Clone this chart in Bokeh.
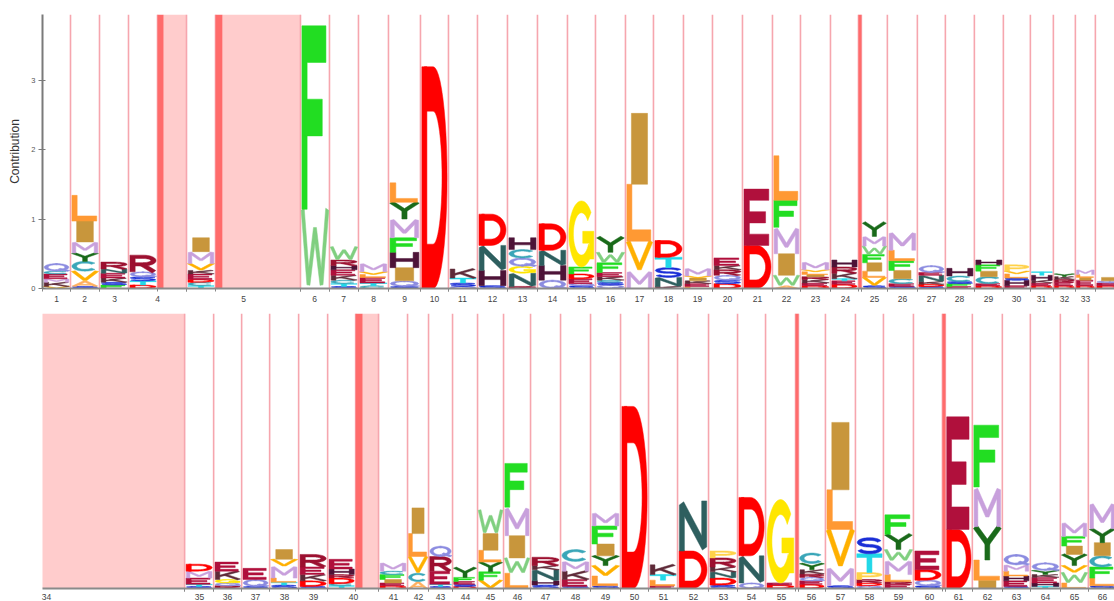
import numpy as np
from bokeh.plotting import figure
from bokeh.layouts import column
from bokeh.models import Range1d, FixedTicker, LinearAxis
from bokeh.embed import file_html
from bokeh.resources import INLINE

# ---------------- DATA ----------------
# residues per position, stacked bottom -> top, with their contributions
res_1_34 = ["VKMECQ", "SAVCYMIL", "FSKENR", "DTSQR", "TCDEKVMI", "WF", "STCKEHRW", "CTELVM",
            "SQIHFMYL", "D", "QSTK", "SHND", "RNGQCH", "QHND", "SQEDFG", "QSCKEFWY", "MVLI",
            "KNSTD", "LEKIVM", "DSQRKE", "DE", "AWIMFL", "DEKRILVM", "DETKRH", "SVLIFWMY",
            "SECIFLM", "SDKNEQ", "EFSCH", "DECIFH", "EHSLVP", "DEKHT", "DERKY", "DEILM", "DEQI"]
hts_1_34 = [[0.03, 0.06, 0.05, 0.07, 0.04, 0.11], [0.03, 0.08, 0.14, 0.14, 0.12, 0.16, 0.30, 0.37],
            [0.05, 0.04, 0.06, 0.07, 0.06, 0.10], [0.05, 0.06, 0.06, 0.07, 0.24],
            [0.04, 0.05, 0.04, 0.08, 0.05, 0.10, 0.17, 0.20], [1.14, 2.64],
            [0.03, 0.04, 0.05, 0.07, 0.08, 0.06, 0.08, 0.19], [0.04, 0.04, 0.08, 0.04, 0.04, 0.12],
            [0.03, 0.08, 0.19, 0.22, 0.21, 0.27, 0.24, 0.28], [3.19], [0.03, 0.05, 0.07, 0.13],
            [0.04, 0.22, 0.36, 0.45], [0.03, 0.19, 0.10, 0.12, 0.12, 0.17], [0.12, 0.21, 0.22, 0.38],
            [0.04, 0.03, 0.07, 0.07, 0.10, 0.95], [0.05, 0.04, 0.03, 0.05, 0.06, 0.14, 0.15, 0.22],
            [0.25, 0.43, 0.82, 1.02], [0.03, 0.13, 0.14, 0.15, 0.24], [0.03, 0.04, 0.04, 0.04, 0.03, 0.11],
            [0.07, 0.05, 0.07, 0.08, 0.06, 0.11], [0.62, 0.81], [0.04, 0.15, 0.31, 0.38, 0.39, 0.64],
            [0.04, 0.04, 0.05, 0.04, 0.03, 0.04, 0.03, 0.11], [0.06, 0.05, 0.03, 0.08, 0.09, 0.10],
            [0.04, 0.12, 0.09, 0.12, 0.12, 0.12, 0.14, 0.20], [0.03, 0.04, 0.07, 0.12, 0.14, 0.15, 0.26],
            [0.03, 0.03, 0.04, 0.09, 0.04, 0.10], [0.03, 0.04, 0.03, 0.08, 0.11],
            [0.04, 0.03, 0.10, 0.08, 0.09, 0.07], [0.04, 0.08, 0.03, 0.06, 0.04, 0.09],
            [0.04, 0.04, 0.04, 0.07, 0.05], [0.04, 0.05, 0.04, 0.04, 0.04], [0.04, 0.08, 0.04, 0.04, 0.07],
            [0.04, 0.04, 0.03, 0.05]]
res_35_66 = ["STEMD", "RQGKE", "SQE", "STLMVI", "SDKER", "TCDRHE", "DEIFCM", "ACVLI", "STERQ",
             "DSEFY", "VFYLIW", "LWIMF", "SHNKR", "SEKMC", "SLVYIFM", "D", "ELTK", "DN", "SDNKRP",
             "QND", "DEG", "DEQRKYC", "SMVLI", "QDRPTS", "ERLMWYF", "SQDE", "DE", "ILYMF",
             "SEHLMQ", "THEKYQ", "LWVYIFM", "SLFCIYM"]
hts_35_66 = [[0.03, 0.03, 0.09, 0.10, 0.10], [0.04, 0.04, 0.05, 0.12, 0.13], [0.03, 0.10, 0.16],
             [0.05, 0.04, 0.06, 0.17, 0.10, 0.14], [0.03, 0.08, 0.09, 0.11, 0.18],
             [0.04, 0.03, 0.08, 0.05, 0.08, 0.14], [0.04, 0.04, 0.05, 0.07, 0.05, 0.12],
             [0.10, 0.12, 0.24, 0.33, 0.37], [0.03, 0.03, 0.19, 0.21, 0.15], [0.03, 0.03, 0.04, 0.06, 0.14],
             [0.12, 0.12, 0.14, 0.17, 0.24, 0.34], [0.22, 0.22, 0.32, 0.41, 0.63],
             [0.05, 0.06, 0.16, 0.06, 0.12], [0.03, 0.10, 0.12, 0.14, 0.17],
             [0.04, 0.14, 0.15, 0.14, 0.17, 0.26, 0.19], [2.62], [0.04, 0.08, 0.08, 0.14], [0.54, 0.72],
             [0.05, 0.10, 0.09, 0.07, 0.13, 0.10], [0.08, 0.39, 0.84], [0.05, 0.03, 1.20],
             [0.06, 0.05, 0.05, 0.05, 0.06, 0.09, 0.15], [0.04, 0.26, 0.55, 0.57, 0.97],
             [0.04, 0.04, 0.05, 0.10, 0.27, 0.23], [0.06, 0.04, 0.10, 0.20, 0.16, 0.22, 0.28],
             [0.04, 0.08, 0.15, 0.27], [0.85, 1.62], [0.12, 0.29, 0.48, 0.57, 0.89],
             [0.03, 0.08, 0.07, 0.07, 0.09, 0.15], [0.03, 0.05, 0.08, 0.04, 0.06, 0.11],
             [0.08, 0.15, 0.10, 0.16, 0.12, 0.14, 0.20], [0.04, 0.11, 0.16, 0.16, 0.19, 0.20, 0.37]]
# insert states: probability (dark strip) and expected length (pale block), in column units
insert_prob = {4: 0.21, 5: 0.24, 24: 0.1, 40: 0.24, 55: 0.1, 60: 0.1}
insert_len = {4: 0.79, 5: 2.69, 34: 4.97, 40: 0.55}

# ---------------- LAYOUT / STYLE ----------------
COL = 29.0
PX_PER_UNIT = 69.5
match_w = [28, 29, 29, 29, 29, 29, 29, 30, 32, 28, 29, 30, 30, 30, 28, 30, 28, 30, 29, 30, 30, 28,
           30, 28, 26, 30, 28, 29, 29, 27, 23, 22, 20, 29,
           29, 28, 28, 29, 29, 28, 29, 21, 24, 25, 26, 27, 30, 30, 30, 28, 29, 31, 29, 28, 30, 27,
           30, 28, 30, 29, 27, 30, 28, 30, 28, 28]
COLORS = {'A': '#ffb060', 'C': '#3aa6b8', 'D': '#ff0000', 'E': '#b0103c', 'F': '#22dd22',
          'G': '#ffe600', 'H': '#4e1438', 'I': '#c8963c', 'K': '#5e2a38', 'L': '#ff9933',
          'M': '#c8a0dc', 'N': '#2e5f5f', 'P': '#ffd24a', 'Q': '#8c8ce0', 'R': '#9c1030',
          'S': '#1a2ed6', 'T': '#22d8e8', 'V': '#ffb000', 'W': '#80cf80', 'Y': '#1a6a1a'}
LINE_C = '#f6a6ae'
PINK = '#ffcccc'
RED = '#ff6b6b'


def arc(cx, cy, rx, ry, a0, a1):
    n = max(8, int(abs(a1 - a0) / 7))
    t = np.radians(np.linspace(a0, a1, n))
    return [(cx + rx * np.cos(a), cy + ry * np.sin(a)) for a in t]


def S(pts, t=0.2):
    return (pts, t)


P_BOWL = [(0.1, 0.0), (0.1, 0.9), (0.5, 0.9)] + arc(0.5, 0.675, 0.4, 0.225, 90, -90) + [(0.1, 0.45)]
GLYPHS = {
    'A': [S([(0.08, 0.02), (0.5, 0.94), (0.92, 0.02)], 0.16), S([(0.27, 0.3), (0.73, 0.3)], 0.14)],
    'C': [S(arc(0.5, 0.5, 0.41, 0.41, 40, 320), 0.18)],
    'D': [S([(0.1, 0), (0.1, 1)]), S([(0.1, 0.9), (0.45, 0.9)] + arc(0.45, 0.5, 0.45, 0.4, 90, -90) + [(0.1, 0.1)])],
    'E': [S([(0.92, 0.9), (0.1, 0.9), (0.1, 0.1), (0.92, 0.1)]), S([(0.1, 0.5), (0.8, 0.5)])],
    'F': [S([(0.92, 0.9), (0.1, 0.9), (0.1, 0.0)]), S([(0.1, 0.5), (0.78, 0.5)])],
    'G': [S(arc(0.5, 0.5, 0.41, 0.41, 40, 330), 0.18), S([(0.55, 0.45), (0.9, 0.45), (0.9, 0.12)], 0.18)],
    'H': [S([(0.1, 0), (0.1, 1)]), S([(0.9, 0), (0.9, 1)]), S([(0.1, 0.5), (0.9, 0.5)])],
    'I': [S([(0.5, 0), (0.5, 1)], 0.64)],
    'K': [S([(0.1, 0), (0.1, 1)], 0.18), S([(0.92, 1), (0.15, 0.38)], 0.16), S([(0.38, 0.58), (0.95, 0)], 0.16)],
    'L': [S([(0.1, 1), (0.1, 0.1), (0.95, 0.1)])],
    'M': [S([(0.08, 0), (0.08, 0.93), (0.5, 0.28), (0.92, 0.93), (0.92, 0)], 0.14)],
    'N': [S([(0.1, 0), (0.1, 0.92), (0.9, 0.08), (0.9, 1)], 0.18)],
    'P': [S(P_BOWL)],
    'Q': [S(arc(0.5, 0.5, 0.41, 0.41, 85, 275), 0.16), S(arc(0.5, 0.5, 0.41, 0.41, 265, 455), 0.16),
          S([(0.6, 0.3), (0.98, 0.02)], 0.16)],
    'R': [S(P_BOWL), S([(0.45, 0.45), (0.92, 0.0)])],
    'S': [S(arc(0.5, 0.71, 0.4, 0.21, 15, 270) + arc(0.5, 0.29, 0.4, 0.21, 90, -165), 0.17)],
    'T': [S([(0.0, 0.9), (1.0, 0.9)]), S([(0.5, 0.9), (0.5, 0.0)])],
    'V': [S([(0.05, 1), (0.5, 0.08), (0.95, 1)], 0.16)],
    'W': [S([(0.03, 1), (0.25, 0.06), (0.5, 0.75), (0.75, 0.06), (0.97, 1)], 0.12)],
    'Y': [S([(0.05, 1), (0.5, 0.5), (0.95, 1)], 0.17), S([(0.5, 0.55), (0.5, 0)], 0.18)],
}


def stroke_poly(pts, th):
    P = [np.array(pts[0], float)]
    for q in pts[1:]:
        q = np.array(q, float)
        if np.hypot(*(q - P[-1])) > 1e-7:
            P.append(q)
    n = len(P)
    d = []
    for i in range(n - 1):
        v = P[i + 1] - P[i]
        d.append(v / np.hypot(*v))
    nr = [np.array([-v[1], v[0]]) for v in d]
    h = th / 2
    left = [P[0] + nr[0] * h]
    right = [P[0] - nr[0] * h]
    for i in range(1, n - 1):
        a, b = nr[i - 1], nr[i]
        m = a + b
        ml = np.hypot(*m)
        if ml < 1e-6:
            left += [P[i] + a * h, P[i] + b * h]
            right += [P[i] - a * h, P[i] - b * h]
            continue
        m = m / ml
        c = float(np.dot(m, b))
        miter = m * h / max(c, 0.3)
        if c > 0.6:
            left.append(P[i] + miter)
            right.append(P[i] - miter)
        else:
            cross = d[i - 1][0] * d[i][1] - d[i - 1][1] * d[i][0]
            if cross > 0:
                left.append(P[i] + miter)
                right += [P[i] - a * h, P[i] - b * h]
            else:
                right.append(P[i] - miter)
                left += [P[i] + a * h, P[i] + b * h]
    left.append(P[-1] + nr[-1] * h)
    right.append(P[-1] - nr[-1] * h)
    poly = np.array(left + right[::-1])
    return poly[:, 0], poly[:, 1]


def build_panel(first, last, residues, heights, start_x, carry, frame_h, top_border, standoff,
                show_y, label_last):
    ymax = frame_h / PX_PER_UNIT
    p = figure(frame_width=1072, frame_height=frame_h, x_range=Range1d(42, 1114),
               y_range=Range1d(0, ymax), output_backend="svg", toolbar_location=None,
               x_axis_type=None, y_axis_type=None, min_border_left=42, min_border_right=0,
               min_border_top=top_border, min_border_bottom=0)
    p.outline_line_color = None
    p.background_fill_color = "white"
    x = start_x
    ticks, minor, labels = [], [], {}
    pink_l, pink_r, red_l, red_r, bounds = [], [], [], [], []
    if carry:
        L = insert_len.get(first - 1, 0) * COL
        pink_l.append(x)
        pink_r.append(x + L)
        ticks.append(int(round(x + 6)))
        labels[int(round(x + 6))] = str(first - 1)
        x += L
        bounds.append(x)
    xs_all, ys_all, cols = [], [], []
    for pos in range(first, last + 1):
        w = match_w[pos - 1]
        left = x
        letters = residues[pos - first]
        hs = heights[pos - first]
        lw = w * 0.9
        xc = left + w / 2
        y0 = 0.0
        for ch, hgt in zip(letters, hs):
            for pts, th in GLYPHS[ch]:
                ux, uy = stroke_poly(pts, th)
                xs_all.append(list(xc - lw / 2 + ux * lw))
                ys_all.append(list(y0 + uy * hgt))
                cols.append(COLORS[ch])
            y0 += hgt
        x += w
        bounds.append(x)
        r = insert_prob.get(pos, 0) * COL
        if r:
            red_l.append(x)
            red_r.append(x + r)
            x += r
        L = insert_len.get(pos, 0) * COL if pos != last else 0
        if L:
            pink_l.append(x)
            pink_r.append(x + L)
            x += L
        if L or r:
            bounds.append(x)
        minor.append(int(round(left)))
        if pos == last and not label_last:
            continue
        c = int(round((left + x) / 2))
        ticks.append(c)
        labels[c] = str(pos)
    p.quad(left=pink_l, right=pink_r, bottom=0, top=ymax, fill_color=PINK, line_color=None)
    p.segment(x0=bounds, x1=bounds, y0=[0] * len(bounds), y1=[ymax] * len(bounds),
              line_color=LINE_C, line_width=1.6)
    p.quad(left=red_l, right=red_r, bottom=0, top=ymax, fill_color=RED, line_color=None)
    p.patches(xs=xs_all, ys=ys_all, fill_color=cols, line_color=cols, line_width=0.5)

    xax = LinearAxis(ticker=FixedTicker(ticks=ticks, minor_ticks=minor + [int(round(b)) for b in bounds]))
    xax.major_label_overrides = labels
    xax.major_tick_out = 0
    xax.major_tick_in = 0
    xax.minor_tick_out = 3
    xax.minor_tick_in = 0
    xax.minor_tick_line_color = '#888888'
    xax.axis_line_color = '#8a8a8a'
    xax.axis_line_width = 2
    xax.major_label_standoff = standoff
    xax.major_label_text_font = "Liberation Sans"
    xax.major_label_text_font_size = "8.5px"
    xax.major_label_text_color = "#444444"
    p.add_layout(xax, "below")
    if show_y:
        yax = LinearAxis(ticker=FixedTicker(ticks=[0, 1, 2, 3]), axis_label="Contribution")
        yax.major_tick_in = 3
        yax.major_tick_out = 4
        yax.minor_tick_in = 0
        yax.minor_tick_out = 0
        yax.axis_line_color = '#7a7a7a'
        yax.axis_line_width = 2
        yax.major_tick_line_color = '#7a7a7a'
        yax.major_label_standoff = 3
        yax.major_label_text_font = "Liberation Sans"
        yax.major_label_text_font_size = "7.5px"
        yax.major_label_text_color = "#555555"
        yax.axis_label_text_font = "Liberation Sans"
        yax.axis_label_text_font_style = "normal"
        yax.axis_label_text_font_size = "12px"
        yax.axis_label_text_color = "#333333"
        yax.axis_label_standoff = 6
        p.add_layout(yax, "left")
    return p


top = build_panel(1, 34, res_1_34, hts_1_34, 42, None, 274, 14, 4, True, False)
bottom = build_panel(35, 66, res_35_66, hts_35_66, 40, True, 275, 9, 2, False, True)
layout = column(top, bottom, spacing=0)
open("out.html", "w").write(file_html(layout, INLINE))
